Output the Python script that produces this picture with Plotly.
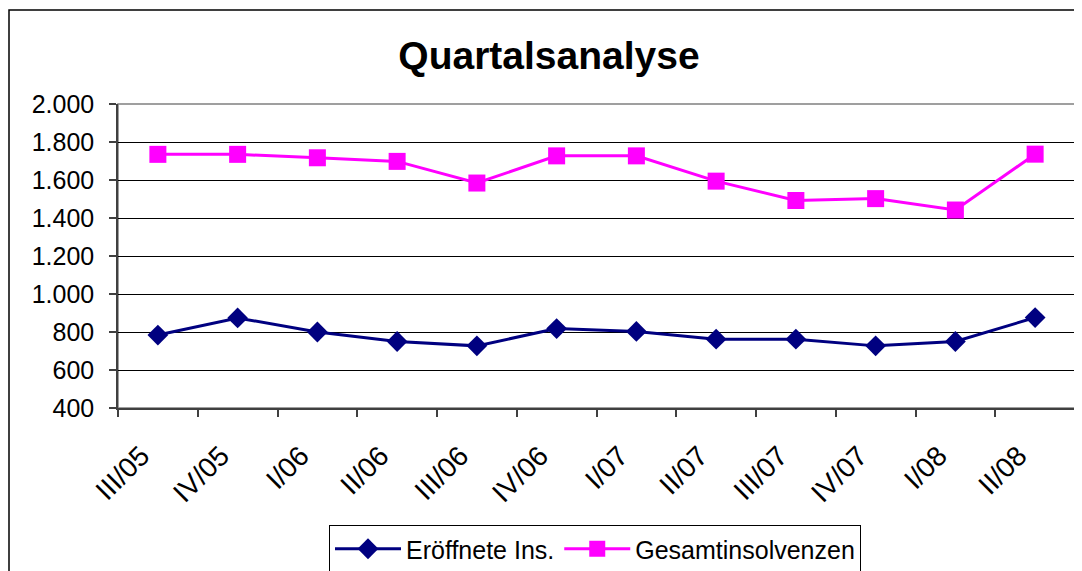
import plotly.graph_objects as go

quarters = ["III/05", "IV/05", "I/06", "II/06", "III/06", "IV/06",
            "I/07", "II/07", "III/07", "IV/07", "I/08", "II/08"]
eroeffnete = [784, 874, 800, 750, 727, 818, 803, 762, 762, 727, 750, 876]
gesamt = [1735, 1735, 1717, 1698, 1584, 1727, 1727, 1594, 1492, 1502, 1442, 1736]

W, H = 1082, 571
OFF = 8  # page body margin offset
L, T = 118 - OFF, 104 - OFF
R = W - (1075 - OFF)
B = H - (408 - OFF)
pw, ph = W - L - R, H - T - B
FONT = "Liberation Sans, Arial, sans-serif"

fig = go.Figure()
fig.add_trace(go.Scatter(
    x=quarters, y=eroeffnete, name="Eröffnete Ins.", mode="lines+markers",
    line=dict(color="#000080", width=3),
    marker=dict(symbol="diamond", size=16, color="#000080")))
fig.add_trace(go.Scatter(
    x=quarters, y=gesamt, name="Gesamtinsolvenzen", mode="lines+markers",
    line=dict(color="#FF00FF", width=3),
    marker=dict(symbol="square", size=17, color="#FF00FF")))

def px_x(p):  # screen px -> paper
    return (p - OFF - L) / pw

def px_y(p):
    return (H - B - (p - OFF)) / ph

shapes = [
    dict(type="rect", xref="paper", yref="paper",
         x0=px_x(9), x1=px_x(1120), y0=px_y(620), y1=px_y(10),
         line=dict(color="#000000", width=1.5), layer="below"),
    dict(type="rect", xref="paper", yref="paper", x0=0, x1=1, y0=0, y1=1,
         line=dict(color="#808080", width=1.5), layer="below"),
]

fig.update_layout(
    width=W, height=H,
    margin=dict(l=L, r=R, t=T, b=B, autoexpand=False),
    paper_bgcolor="white", plot_bgcolor="white",
    separators=",.",
    font=dict(family=FONT, color="#000000"),
    title=dict(text="<b>Quartalsanalyse</b>", x=(549 - OFF) / W, xanchor="center",
               y=1 - (55 - OFF) / H, yanchor="middle",
               font=dict(size=39, family=FONT, color="#000000")),
    showlegend=True,
    legend=dict(orientation="h", x=px_x(595), xanchor="center",
                y=px_y(525), yanchor="top",
                bordercolor="#000000", borderwidth=1,
                font=dict(size=25, family=FONT),
                itemwidth=66, tracegroupgap=0),
    shapes=shapes,
    hovermode=False,
)

fig.update_xaxes(
    type="category", tickangle=-45, tickson="boundaries",
    ticks="outside", ticklen=7, tickcolor="#404040", tickwidth=1.5,
    showline=True, linecolor="#404040", linewidth=1.5,
    showgrid=False, tickfont=dict(size=28, family=FONT),
    tickmode="array", tickvals=quarters,
    ticktext=[q + "\u00a0\u00a0\u00a0" for q in quarters],
    ticklabelstandoff=2,
    range=[-0.5, len(quarters) - 0.5],
)
fig.update_yaxes(
    range=[400, 2000], dtick=200, tick0=400, tickformat=",d",
    ticks="outside", ticklen=7, tickcolor="#404040", tickwidth=1.5,
    showline=True, linecolor="#404040", linewidth=1.5,
    showgrid=True, gridcolor="#000000", gridwidth=1,
    zeroline=False, tickfont=dict(size=25, family=FONT),
    ticklabelstandoff=10,
)

fig.write_html("out.html")
